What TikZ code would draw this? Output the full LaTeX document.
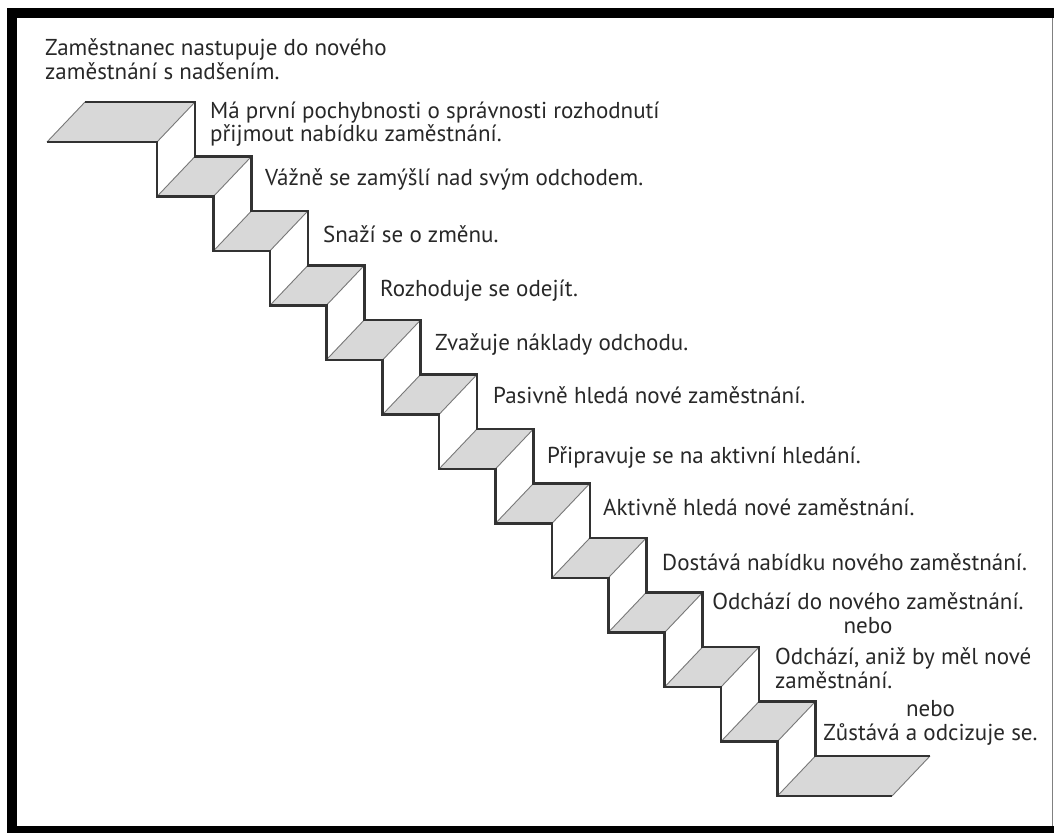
\documentclass[tikz,border=0pt]{standalone}
\usepackage{fontspec}
\setmainfont{PT Sans}

\definecolor{treadgray}{RGB}{216,216,216}
\definecolor{edgegray}{RGB}{50,50,50}
\definecolor{diaggray}{RGB}{120,120,120}
\definecolor{textgray}{RGB}{40,40,40}

\tikzset{
  tread/.style={fill=treadgray},
  outline/.style={draw=edgegray, line width=2.6pt, line join=miter},
  nosing/.style={draw=diaggray, line width=0.9pt},
  caption/.style={anchor=base west, inner sep=0pt, align=left, text=textgray,
    font=\fontsize{23}{24}\selectfont},
}

\begin{document}
\begin{tikzpicture}[x=1pt,y=-1pt]
  \useasboundingbox (0,0) rectangle (1054,832);
  \fill[white] (0,0) rectangle (1054,832);
  % treads
  \foreach \k in {1,...,13}{
    \pgfmathsetmacro\yf{142+(\k-1)*54.5}
    \pgfmathsetmacro\xl{\k==1 ? 47 : 157+(\k-2)*56.4}
    \pgfmathsetmacro\xr{\k==13 ? 892 : 157+(\k-1)*56.4}
    \fill[tread] (\xl,\yf) -- (\xr,\yf) -- ++(38,-40) -- (\xl+38,\yf-40) -- cycle;
    \draw[nosing] (\xl,\yf) -- ++(38,-40) (\xr,\yf) -- ++(38,-40);
  }
  % front and back profile
  \foreach \sx/\sy in {0/0,38/-40}{
    \draw[outline] (47+\sx,142+\sy) -- (157+\sx,142+\sy)
      \foreach \i in {1,...,11}{ -- ++(0,54.5) -- ++(56.4,0) }
      -- ++(0,54.5) -- (892+\sx,796+\sy);
  }
  % labels (base = last line)
  \node[caption] (s1) at (45,80) {Zaměstnanec nastupuje do nového\\zaměstnání s nadšením.};
  \node[caption] (s2) at (210,142) {Má první pochybnosti o správnosti rozhodnutí\\přijmout nabídku zaměstnání.};
  \node[caption] (s3) at (265,185) {Vážně se zamýšlí nad svým odchodem.};
  \node[caption] (s4) at (323,242) {Snaží se o změnu.};
  \node[caption] (s5) at (380,296) {Rozhoduje se odejít.};
  \node[caption] (s6) at (435,350) {Zvažuje náklady odchodu.};
  \node[caption] (s7) at (493,403) {Pasivně hledá nové zaměstnání.};
  \node[caption] (s8) at (547,463) {Připravuje se na aktivní hledání.};
  \node[caption] (s9) at (603,515) {Aktivně hledá nové zaměstnání.};
  \node[caption] (s10) at (662,570) {Dostává nabídku nového zaměstnání.};
  \node[caption, anchor=base, align=center] (s11) at (868,633) {Odchází do nového zaměstnání.\\nebo};
  \node[caption] (s12) at (775,688) {Odchází, aniž by měl nové\\zaměstnání.};
  \node[caption, anchor=base, align=center] (s13) at (930.5,740) {nebo\\Zůstává a odcizuje se.};
  % frame
  \draw[line width=10pt] (1064,13.5) -- (12,13.5) -- (12,831) -- (1064,831);
  \draw[line width=1pt, draw=gray] (1052,18) -- (1052,826);
\end{tikzpicture}
\end{document}
